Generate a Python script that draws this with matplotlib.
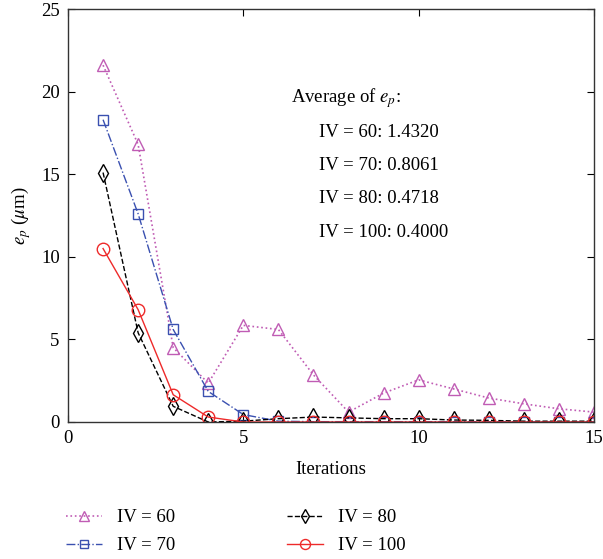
import matplotlib
matplotlib.use("Agg")
import matplotlib.pyplot as plt

# ── Data ────────────────────────────────────────────────────────────────
iterations = list(range(1, 16))
ep_iv60  = [21.6, 16.8, 4.5, 2.35, 5.85, 5.6, 2.85, 0.6, 1.75, 2.55, 2.0, 1.45, 1.1, 0.8, 0.6]
ep_iv70  = [18.3, 12.6, 5.6, 1.85, 0.45, 0.05, 0.02, 0.02, 0.02, 0.02, 0.02, 0.01, 0.01, 0.01, 0.01]
ep_iv80  = [15.1, 5.4, 0.95, 0.0, 0.05, 0.2, 0.3, 0.25, 0.2, 0.2, 0.12, 0.1, 0.05, 0.05, 0.05]
ep_iv100 = [10.5, 6.8, 1.65, 0.3, 0.0, 0.0, 0.0, 0.0, 0.0, 0.0, 0.0, 0.0, 0.0, 0.0, 0.0]

avg_labels = ["IV = 60: 1.4320", "IV = 70: 0.8061", "IV = 80: 0.4718", "IV = 100: 0.4000"]

# ── Style ───────────────────────────────────────────────────────────────
plt.rcParams['font.family'] = ['Liberation Serif', 'DejaVu Serif']
plt.rcParams['mathtext.fontset'] = 'stix'
FS = 13.5

fig = plt.figure(figsize=(6.03, 5.59), dpi=100)
ax = fig.add_axes([68/603, 1 - 422/559, (594-68)/603, (422-9)/559])

ax.plot(iterations, ep_iv60, color='#C05CB4', linestyle=':', marker='^',
        markersize=9, markerfacecolor='none', linewidth=1.2, label='IV = 60')
ax.plot(iterations, ep_iv70, color='#3A50B0', linestyle='-.', marker='s',
        markersize=7, markerfacecolor='none', linewidth=1.0, label='IV = 70')
ax.plot(iterations, ep_iv80, color='black', linestyle='--', marker='d',
        markersize=9, markerfacecolor='none', linewidth=1.0, label='IV = 80')
ax.plot(iterations, ep_iv100, color='#EE2A2A', linestyle='-', marker='o',
        markersize=9, markerfacecolor='none', linewidth=1.0, label='IV = 100')

ax.set_xlim(0, 15)
ax.set_ylim(0, 25)
ax.set_xticks([0, 5, 10, 15])
ax.set_yticks([0, 5, 10, 15, 20, 25])
ax.tick_params(direction='in', length=5, labelsize=FS, right=True, top=True, pad=6)
for s in ax.spines.values():
    s.set_linewidth(1.0)
    s.set_color('#333333')

ax.set_xlabel('Iterations', fontsize=FS, labelpad=10)
ax.set_ylabel(r'$e_p$ ($\mu$m)', fontsize=FS, labelpad=6)

# ── Annotation ──────────────────────────────────────────────────────────
ax.text(6.35, 19.6, r'Average of $e_p$:', fontsize=FS, va='center', ha='left')
for i, lab in enumerate(avg_labels):
    ax.text(7.15, 17.5 - i * 2.0, lab, fontsize=FS, va='center', ha='left')

# ── Legend ──────────────────────────────────────────────────────────────
handles, labels = ax.get_legend_handles_labels()
fig.legend(handles, labels,
           loc='upper left', bbox_to_anchor=(66/603, 1 - 509/559), ncol=2,
           frameon=False, fontsize=FS, handlelength=1.9, handletextpad=0.8,
           columnspacing=6.0, labelspacing=0.6, borderpad=0, borderaxespad=0,
           markerscale=0.8)

fig.savefig('out.png', dpi=100)
